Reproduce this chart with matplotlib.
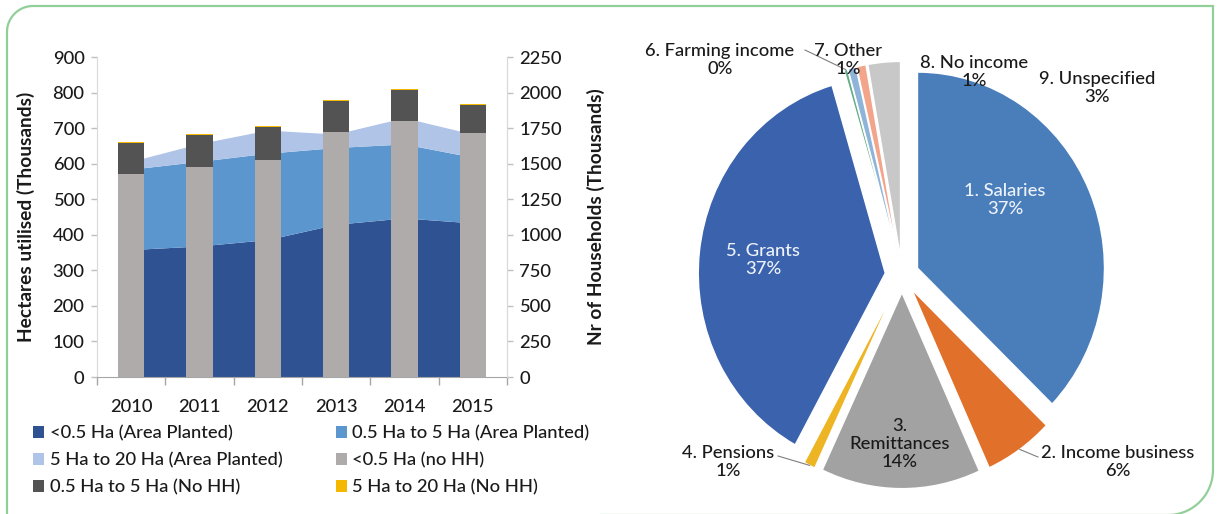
import numpy as np
import matplotlib
matplotlib.use("Agg")
import matplotlib.pyplot as plt
from matplotlib.path import Path
from matplotlib.patches import PathPatch, Patch

plt.rcParams['font.family'] = ['Lato', 'DejaVu Sans']
plt.rcParams['font.weight'] = 'medium'

# ---------------- data ----------------
years = ['2010', '2011', '2012', '2013', '2014', '2015']
# Hectares utilised (thousands), stacked areas
area_lt05 = [357, 367, 385, 428, 446, 432]
area_05_5 = [226, 238, 243, 216, 208, 185]
area_5_20 = [22, 50, 65, 38, 74, 65]
# Number of households (thousands), stacked bars
hh_lt05 = [1428, 1480, 1526, 1724, 1797, 1714]
hh_05_5 = [216, 223, 233, 218, 221, 198]
hh_5_20 = [7, 8, 8, 9, 9, 8]

legend_labels = ['<0.5 Ha (Area Planted)', '0.5 Ha to 5 Ha (Area Planted)',
                 '5 Ha to 20 Ha (Area Planted)', '<0.5 Ha (no HH)',
                 '0.5 Ha to 5 Ha (No HH)', '5 Ha to 20 Ha (No HH)']

income_labels = ['1. Salaries', '2. Income business', '3.\nRemittances', '4. Pensions',
                 '5. Grants', '6. Farming income', '7. Other', '8. No income',
                 '9. Unspecified']
income_share = [37.2, 6.0, 13.8, 1.0, 37.4, 0.3, 0.7, 0.8, 2.8]

# ---------------- styles ----------------
W, H = 1218, 514
FS = 13.2
c_area = ['#2E5292', '#5B96CF', '#AFC4E6']
c_bar = ['#AEABAA', '#535353', '#F5B800']
c_pie = ['#4A7EBB', '#E0702A', '#A2A2A2', '#EDB423', '#3A62AD',
         '#62AD86', '#8FB4D9', '#F2A58A', '#C8C8C8']
txt = '#1A1A1A'

fig = plt.figure(figsize=(W / 100, H / 100), dpi=100)
fig.patch.set_facecolor('white')

# ---------------- border ----------------
def px(x, y):
    return (x / W, (H - y) / H)

pts = [px(7, 530), px(7, 32)]
for a in np.linspace(np.pi, np.pi / 2, 20):
    pts.append(px(33 + 26 * np.cos(a), 32 - 26 * np.sin(a)))
pts += [px(1213, 6), px(1213, 470)]
for a in np.linspace(0, -np.pi / 2, 20):
    pts.append(px(1168 + 45 * np.cos(a), 470 - 45 * np.sin(a)))
pts.append(px(600, 515))
fig.add_artist(PathPatch(Path(pts), transform=fig.transFigure, fill=False,
                         edgecolor='#92CF98', lw=1.6, clip_on=False))

# ---------------- left chart ----------------
ax = fig.add_axes([97 / W, 1 - 377 / H, 410 / W, 320 / H])
x = np.arange(len(years))
ax.stackplot(x, area_lt05, area_05_5, area_5_20, colors=c_area, lw=0)
ax.set_xlim(-0.5, len(years) - 0.5)
ax.set_ylim(0, 900)
ax.set_yticks(np.arange(0, 901, 100))

ax2 = ax.twinx()
bw = 0.39
b1 = np.array(hh_lt05)
b2 = np.array(hh_05_5)
ax2.bar(x, hh_lt05, width=bw, color=c_bar[0], lw=0)
ax2.bar(x, hh_05_5, width=bw, bottom=b1, color=c_bar[1], lw=0)
ax2.bar(x, hh_5_20, width=bw, bottom=b1 + b2, color=c_bar[2], lw=0)
ax2.set_ylim(0, 2250)
ax2.set_yticks(np.arange(0, 2251, 250))

for a in (ax, ax2):
    a.spines['top'].set_visible(False)
    a.spines['left'].set_color('#D9D9D9')
    a.spines['right'].set_color('#D9D9D9')
    a.spines['bottom'].set_color('#A6A6A6')
    a.tick_params(axis='y', colors='#BFBFBF', labelcolor=txt, labelsize=FS,
                  length=4, width=1, pad=5)
ax2.spines['left'].set_visible(False)
ax2.spines['bottom'].set_visible(False)

ax.set_xticks(np.arange(-0.5, len(years), 1.0))
ax.set_xticklabels([''] * (len(years) + 1))
ax.set_xticks(x, minor=True)
ax.set_xticklabels(years, minor=True)
ax.tick_params(axis='x', which='major', length=6, color='#A6A6A6', width=1)
ax.tick_params(axis='x', which='minor', length=0, pad=16, labelsize=FS,
               labelcolor=txt)

ax.set_ylabel('Hectares utilised (Thousands)', fontsize=13.8, fontweight='bold',
              color=txt)
ax.yaxis.set_label_coords(-0.15, 0.5)
ax2.set_ylabel('Nr of Households (Thousands)', fontsize=13.8, fontweight='bold',
               color=txt)
ax2.yaxis.set_label_coords(1.195, 0.5)

# legend (two columns)
all_cols = c_area + c_bar
handles = [Patch(facecolor=c, edgecolor='none') for c in all_cols]
col1 = [0, 2, 4]
col2 = [1, 3, 5]
for idx, xpos in ((col1, 33), (col2, 336)):
    lg = fig.legend([handles[i] for i in idx], [legend_labels[i] for i in idx],
                    loc='upper left', bbox_to_anchor=px(xpos, 425),
                    frameon=False, fontsize=FS, handlelength=0.6,
                    handleheight=0.6, handletextpad=0.3, labelspacing=0.6,
                    borderpad=0, borderaxespad=0)
    for t in lg.get_texts():
        t.set_color(txt)

# ---------------- pie ----------------
rx, ry = 187, 196
cx, cy = 902, 275
pw, ph = 2.4 * rx, 2.4 * ry
axp = fig.add_axes([(cx - pw / 2) / W, (H - cy - ph / 2) / H, pw / W, ph / H])
wedges, _ = axp.pie(income_share, colors=c_pie, startangle=90, counterclock=False,
                    explode=[0.09] * len(income_share),
                    wedgeprops=dict(edgecolor='white', linewidth=1.0))
axp.set_xlim(-1.2, 1.2)
axp.set_ylim(-1.2, 1.2)
axp.set_aspect('auto')
axp.axis('off')

def dpos(xp, yp):
    return ((xp - cx) / rx, (cy - yp) / ry)

pct = ['{:.0f}%'.format(v) for v in income_share]
label_pos = [(1005, 200), (1118, 462), (900, 444), (728, 462), (763, 260),
             (720, 60), (848, 60), (974, 72), (1097, 88)]
label_col = ['#EEF3FA', txt, txt, txt, '#EEF3FA', txt, txt, txt, txt]
for i, (lab, p) in enumerate(zip(income_labels, label_pos)):
    axp.text(*dpos(*p), lab + '\n' + pct[i], ha='center', va='center',
             fontsize=FS, color=label_col[i], linespacing=1.15, clip_on=False)

def edge_point(w, frac=0.5):
    t = np.deg2rad(w.theta1 + (w.theta2 - w.theta1) * frac)
    return (w.center[0] + w.r * np.cos(t), w.center[1] + w.r * np.sin(t))

# leader lines
leaders = [(3, (778, 456)), (1, (1038, 457)), (5, (805, 50))]
for i, p in leaders:
    axp.plot(*zip(dpos(*p), edge_point(wedges[i])), color='#7F7F7F', lw=0.8,
             clip_on=False)

fig.savefig('out.png', dpi=100)
